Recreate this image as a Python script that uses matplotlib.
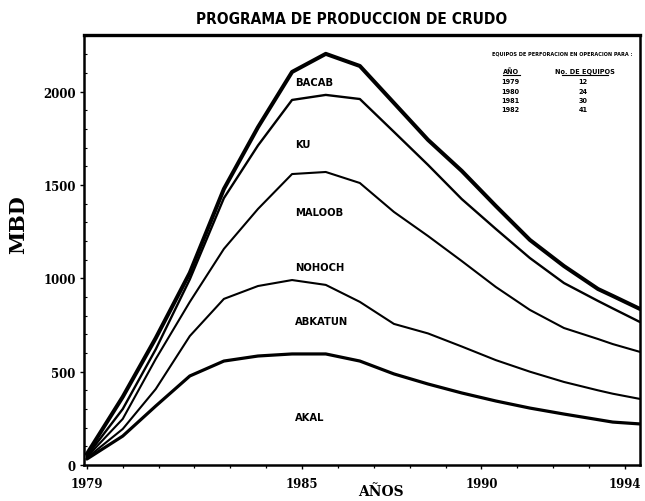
import matplotlib
matplotlib.use("Agg")
import matplotlib.pyplot as plt
import matplotlib.font_manager as fm
from matplotlib.font_manager import FontProperties
from matplotlib.ticker import MultipleLocator, FixedLocator

# ---------------- data ----------------
years = [1979.0, 1980.0, 1980.92, 1981.87, 1982.82, 1983.77, 1984.72, 1985.66,
         1986.61, 1987.56, 1988.51, 1989.45, 1990.40, 1991.35, 1992.30,
         1993.25, 1993.66, 1994.42]

bacab = [59, 365, 680, 1030, 1479, 1810, 2106, 2203, 2138, 1940, 1742, 1576,
         1388, 1206, 1066, 943, 906, 836]
ku = [48, 300, 620, 995, 1430, 1712, 1956, 1983, 1961, 1785, 1608, 1425,
      1265, 1109, 975, 879, 839, 766]
maloob = [43, 247, 568, 874, 1158, 1372, 1559, 1570, 1511, 1356, 1227, 1093,
          954, 831, 734, 675, 648, 606]
abkatun = [38, 193, 407, 691, 890, 959, 991, 965, 874, 756, 705, 635,
           562, 500, 445, 400, 382, 354]
akal = [32, 155, 316, 477, 557, 584, 595, 595, 557, 488, 434, 386,
        343, 305, 273, 243, 230, 220]

field_names = ["BACAB", "KU", "MALOOB", "NOHOCH", "ABKATUN", "AKAL"]
label_x = 1984.80
label_y = [2052, 1720, 1356, 1061, 772, 257]

x_ticks = [1979, 1985, 1990, 1994]
y_ticks = [0, 500, 1000, 1500, 2000]

table_title = "EQUIPOS DE PERFORACION EN OPERACION PARA :"
table_head = ["AÑO", "No. DE EQUIPOS"]
table_years = ["1979", "1980", "1981", "1982"]
table_rigs = ["12", "24", "30", "41"]

# ---------------- find a condensed bold face if one is installed ----------------
def find_condensed():
    cands = []
    for f in fm.fontManager.ttflist:
        st = str(f.stretch).lower()
        nm = f.name.lower()
        if "condensed" in st or "narrow" in nm or "condensed" in nm:
            try:
                w = int(f.weight)
            except Exception:
                w = {"bold": 700, "heavy": 800, "black": 900}.get(str(f.weight), 400)
            cands.append((abs(w - 750), f.fname))
    if cands:
        cands.sort()
        return FontProperties(fname=cands[0][1])
    return None

cond_fp = find_condensed()

def cond(size):
    if cond_fp is not None:
        fp = cond_fp.copy()
        fp.set_size(size)
        return fp
    return FontProperties(family="DejaVu Sans", weight="bold", size=size)

# ---------------- figure ----------------
W, H = 645, 502
fig = plt.figure(figsize=(W / 100, H / 100), dpi=100)
fig.patch.set_facecolor("white")

def fx(px):
    return px / W

def fy(py):
    return 1 - py / H

ax = fig.add_axes([fx(84), fy(466), fx(640) - fx(84), fy(36) - fy(466)])

serif = ["DejaVu Serif"]

lines = [(bacab, 2.9), (ku, 1.7), (maloob, 1.5), (abkatun, 1.5), (akal, 2.3)]
for vals, lw in lines:
    ax.plot(years, vals, color="black", lw=lw, solid_joinstyle="round",
            solid_capstyle="round")

ax.set_xlim(1978.92, 1994.42)
ax.set_ylim(0, 2304)

for s in ax.spines.values():
    s.set_linewidth(1.8)
ax.spines["top"].set_linewidth(2.4)

ax.xaxis.set_major_locator(FixedLocator(x_ticks))
ax.xaxis.set_minor_locator(MultipleLocator(1))
ax.yaxis.set_major_locator(FixedLocator(y_ticks))
ax.yaxis.set_minor_locator(MultipleLocator(100))
ax.tick_params(axis="x", which="major", direction="out", length=3, width=1,
               pad=6, labelsize=8.5)
ax.tick_params(axis="x", which="minor", direction="out", length=2.5, width=0.9)
ax.tick_params(axis="y", which="major", direction="out", length=3, width=1,
               pad=3, labelsize=8.5)
ax.tick_params(axis="y", which="minor", direction="in", length=2.5, width=0.8)
for lab in ax.get_xticklabels() + ax.get_yticklabels():
    lab.set_family(serif)
    lab.set_fontweight("bold")

label_size = 8 if cond_fp is not None else 7
for name, yv in zip(field_names, label_y):
    ax.text(label_x, yv, name, ha="left", va="center", fontproperties=cond(label_size))

# axis labels and title
fig.text(fx(18), fy(225), "MBD", rotation=90, ha="center", va="center",
         fontsize=15, fontweight="bold", family=serif)
fig.text(fx(381), fy(492), "AÑOS", ha="center", va="center",
         fontsize=10, fontweight="bold", family=serif)
title = fig.text(fx(352), fy(19), "PROGRAMA DE PRODUCCION DE CRUDO", ha="center",
                 va="center", fontproperties=cond(14))

# drilling rigs table
small = 5.2 if cond_fp is not None else 4.6
ttl = fig.text(fx(562), fy(54), table_title, ha="center", va="center",
               fontproperties=cond(small - 0.6))
fig.text(fx(511), fy(72), table_head[0], ha="center", va="center",
         fontproperties=cond(small))
fig.text(fx(585), fy(72), table_head[1], ha="center", va="center",
         fontproperties=cond(small))
fig.add_artist(plt.Line2D([fx(503), fx(520)], [fy(76), fy(76)], color="black", lw=0.8))
fig.add_artist(plt.Line2D([fx(562), fx(608)], [fy(76), fy(76)], color="black", lw=0.8))
for i, (yr, rg) in enumerate(zip(table_years, table_rigs)):
    yy = 82 + i * 9.5
    fig.text(fx(510), fy(yy), yr, ha="center", va="center", fontproperties=cond(small))
    fig.text(fx(583), fy(yy), rg, ha="center", va="center", fontproperties=cond(small))

# fit a few texts to the widths they have in the reference
renderer = fig.canvas.get_renderer()

def fit(t, target, maxsize):
    wpx = t.get_window_extent(renderer).width
    if wpx > 0:
        fp = t.get_fontproperties().copy()
        fp.set_size(min(maxsize, fp.get_size() * target / wpx))
        t.set_fontproperties(fp)

fit(title, 310, 18)
fit(ttl, 138, 6)

fig.savefig("out.png", dpi=100, facecolor="white")
